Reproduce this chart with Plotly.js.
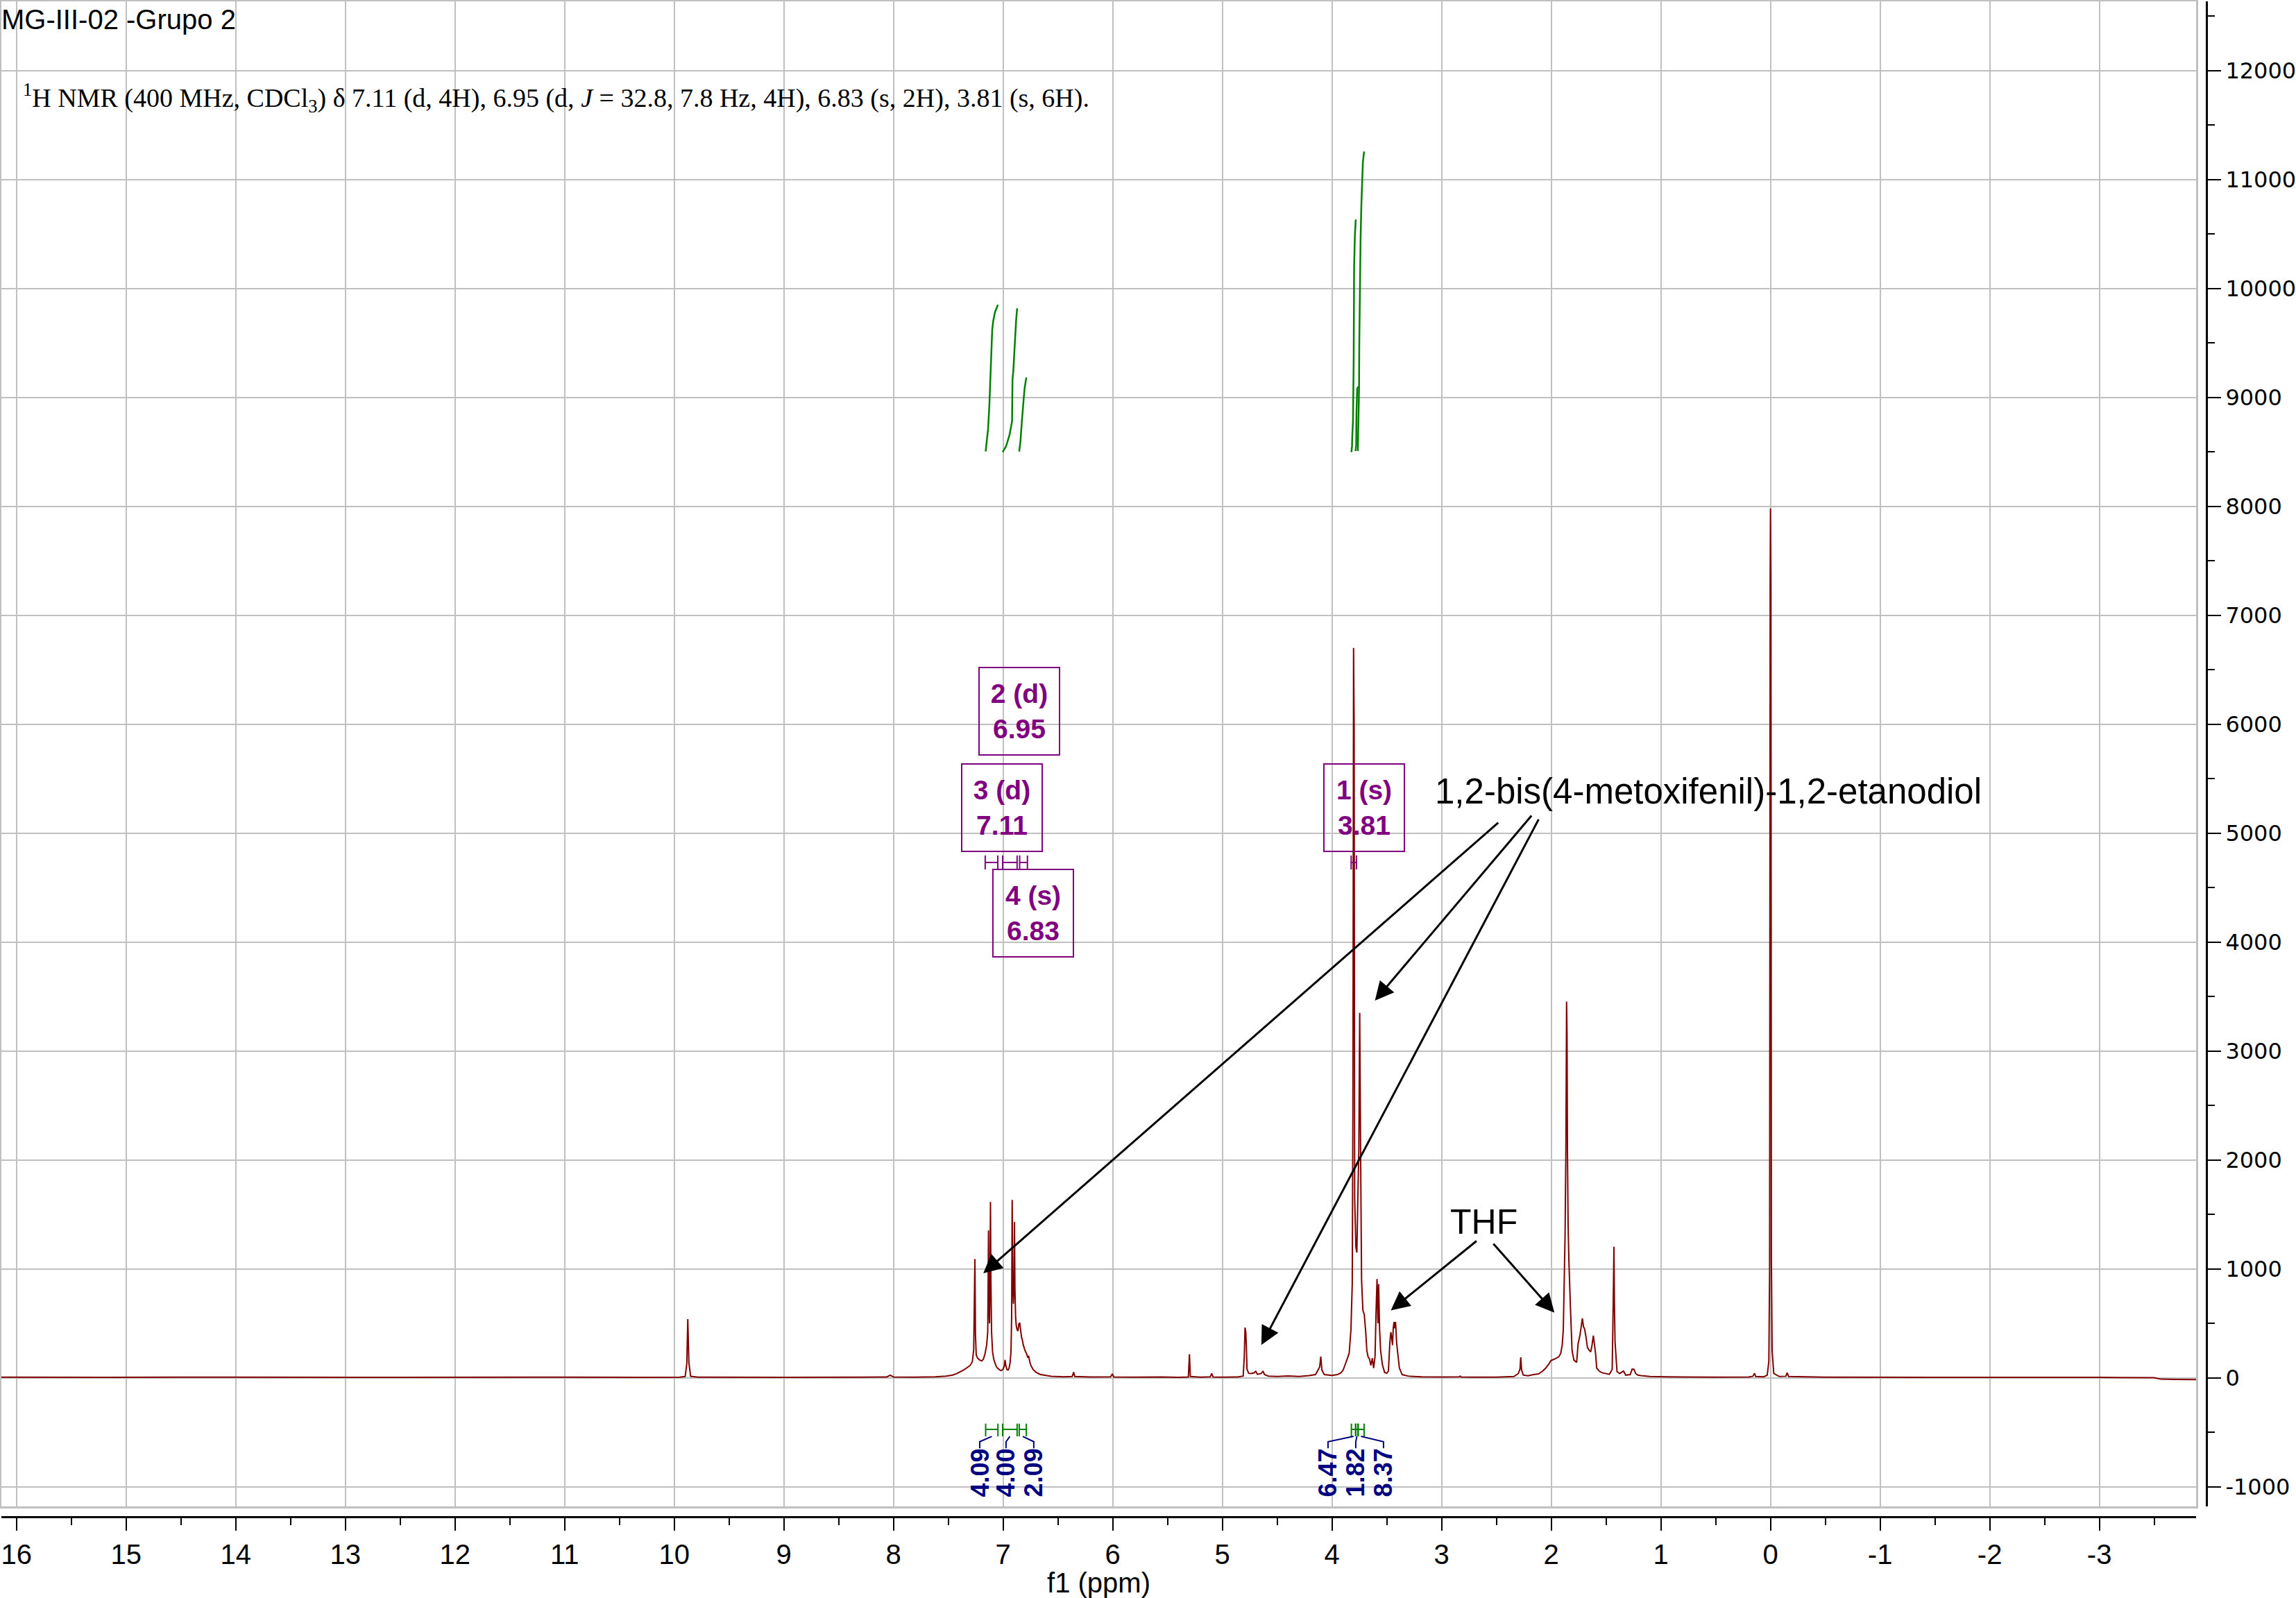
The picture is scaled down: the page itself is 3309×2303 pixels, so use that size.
<!DOCTYPE html>
<html><head><meta charset="utf-8">
<script src="https://cdn.plot.ly/plotly-3.0.1.min.js"></script>
<style>html,body{margin:0;padding:0;background:#fff;}#chart{width:3309px;height:2303px;}</style>
</head><body><div id="chart"></div>
<script>
// ---------------- DATA ----------------
const spectrumPpm = [16.137,15.2,14.0,12.5,11.0,10.3,9.95,9.90,9.885,9.876,9.866,9.85,9.78,9.0,8.3,8.06,8.03,8.00,7.80,7.62,7.52,7.46,7.42,7.39,7.36,7.33,7.30,7.28,7.268,7.262,7.257,7.252,7.245,7.232,7.215,7.195,7.18,7.165,7.150,7.140,7.136,7.133,7.129,7.124,7.119,7.115,7.111,7.105,7.096,7.085,7.076,7.062,7.050,7.030,7.018,7.000,6.988,6.982,6.976,6.966,6.955,6.945,6.936,6.928,6.922,6.917,6.912,6.906,6.900,6.896,6.892,6.886,6.880,6.872,6.864,6.856,6.848,6.840,6.832,6.824,6.815,6.806,6.795,6.786,6.776,6.766,6.755,6.744,6.725,6.700,6.663,6.600,6.560,6.45,6.37,6.356,6.346,6.20,6.02,6.003,5.99,5.80,5.55,5.40,5.31,5.300,5.292,5.20,5.11,5.097,5.085,5.00,4.86,4.81,4.800,4.793,4.786,4.781,4.775,4.76,4.74,4.71,4.695,4.68,4.645,4.630,4.615,4.58,4.50,4.40,4.30,4.21,4.15,4.128,4.112,4.102,4.092,4.07,4.00,3.95,3.92,3.90,3.876,3.855,3.843,3.827,3.815,3.809,3.803,3.798,3.793,3.782,3.773,3.765,3.755,3.747,3.739,3.730,3.718,3.705,3.692,3.682,3.670,3.658,3.645,3.632,3.620,3.607,3.598,3.589,3.581,3.574,3.566,3.556,3.540,3.520,3.500,3.485,3.473,3.463,3.456,3.448,3.441,3.434,3.427,3.420,3.410,3.400,3.385,3.360,3.30,3.18,3.00,2.84,2.83,2.82,2.70,2.50,2.34,2.30,2.285,2.278,2.270,2.255,2.213,2.160,2.116,2.080,2.051,2.020,2.003,1.975,1.954,1.930,1.913,1.900,1.890,1.874,1.866,1.860,1.856,1.852,1.846,1.839,1.825,1.810,1.793,1.768,1.755,1.740,1.728,1.716,1.706,1.696,1.683,1.670,1.658,1.640,1.628,1.616,1.605,1.596,1.585,1.560,1.535,1.470,1.444,1.432,1.428,1.424,1.418,1.400,1.375,1.341,1.320,1.280,1.262,1.245,1.230,1.210,1.180,1.100,0.937,0.80,0.50,0.20,0.160,0.146,0.135,0.06,0.03,0.015,0.008,0.003,0.000,-0.004,-0.008,-0.015,-0.030,-0.080,-0.140,-0.152,-0.165,-0.50,-1.50,-3.00,-3.50,-3.56,-3.70,-3.882];
const spectrumIntensity = [6,5,6,5,6,5,6,12,130,540,140,14,7,5,6,8,24,8,7,10,16,25,40,57,72,92,115,150,260,700,1090,400,210,180,165,155,170,220,300,420,900,1353,700,500,900,1614,900,420,240,170,142,105,89,72,66,80,110,165,120,78,72,90,140,240,560,1633,900,680,860,1432,820,560,480,440,430,495,505,440,376,345,300,270,240,222,190,196,140,110,75,52,32,20,14,10,12,52,12,8,9,36,8,6,8,5,8,217,12,6,9,40,8,7,8,16,190,461,420,290,80,42,40,46,60,32,40,62,30,16,12,18,12,20,30,70,100,195,72,30,22,30,45,68,132,190,227,440,863,2500,6700,5990,1650,1200,1150,1600,2100,3350,2100,900,620,580,420,250,190,174,115,180,90,200,600,907,500,860,450,248,120,50,42,62,312,420,376,300,455,514,455,514,320,227,90,30,15,10,8,9,16,8,6,7,12,40,80,189,70,26,19,30,36,60,89,130,159,170,180,195,227,300,440,1289,2138,3454,3150,2080,1400,1077,652,250,163,142,312,380,461,546,470,450,376,280,259,238,300,387,300,227,89,60,47,32,78,863,1204,700,333,57,40,62,25,30,80,78,40,25,20,12,10,8,6,8,15,42,12,10,25,150,1000,7300,7980,7340,1100,250,40,12,15,47,12,6,5,4,2,-12,-15,-16];

// integral curves (green), one array per integrated region
const integralCurvePpm = [
  [7.159,7.152,7.137,7.125,7.116,7.108,7.099,7.089,7.074,7.047],
  [7.004,6.973,6.941,6.927,6.918,6.914,6.906,6.897,6.889,6.881,6.872],
  [6.853,6.842,6.830,6.821,6.813,6.804,6.788],
  [3.823,3.817,3.815,3.808,3.802,3.798,3.791,3.783],
  [3.785,3.779,3.777,3.770,3.760],
  [3.764,3.760,3.753,3.751,3.745,3.739,3.732,3.724,3.718,3.707]
];
const integralCurveValue = [
  [8503,8571,8709,8932,9166,9389,9622,9707,9782,9850],
  [8497,8550,8656,8720,8783,9166,9251,9420,9611,9707,9818],
  [8503,8592,8762,8911,8975,9081,9183],
  [8497,8553,8636,8792,9353,10200,10486,10633],
  [8508,8564,8843,9078,9100],
  [8508,8687,9089,9480,10027,10463,10765,11028,11160,11257]
];
const integralFrom   = [7.159, 7.004, 6.853, 3.823, 3.785, 3.764];
const integralTo     = [7.047, 6.872, 6.788, 3.783, 3.760, 3.707];
const integralValues = ['4.09','4.00','2.09','6.47','1.82','8.37'];

const multipletNames  = ['1 (s)','2 (d)','3 (d)','4 (s)'];
const multipletShifts = ['3.81','6.95','7.11','6.83'];
const multipletFrom   = [3.825, 7.004, 7.163, 6.849];
const multipletTo     = [3.777, 6.872, 7.048, 6.778];

// axis tick labels
const xTickVals = [16,15,14,13,12,11,10,9,8,7,6,5,4,3,2,1,0,-1,-2,-3];
const xTickText = ['16','15','14','13','12','11','10','9','8','7','6','5','4','3','2','1','0','-1','-2','-3'];
const yTickVals = [-1000,0,1000,2000,3000,4000,5000,6000,7000,8000,9000,10000,11000,12000];
const yTickText = ['-1000','0','1000','2000','3000','4000','5000','6000','7000','8000','9000','10000','11000','12000'];

const titleText = 'MG-III-02 -Grupo 2';
const nmrText = '<sup>1</sup>H NMR (400 MHz, CDCl<sub>3</sub>) δ 7.11 (d, 4H), 6.95 (d, <i>J</i> = 32.8, 7.8 Hz, 4H), 6.83 (s, 2H), 3.81 (s, 6H).';
const compoundText = '1,2-bis(4-metoxifenil)-1,2-etanodiol';
const solventText = 'THF';
const xTitle = 'f1 (ppm)';

// ---------------- POSITIONS / STYLES ----------------
const X_RANGE = [16.137, -3.882];
const Y_RANGE = [-1180, 12635];
const RED = '#800000', GREEN = '#008000', NAVY = '#000080', PURPLE = '#800080', GRID = '#c0c0c0';
const integralLabelPpm = [7.213, 6.973, 6.720, 4.036, 3.783, 3.530];
const multipletBoxPos = [[3.707, 5231], [6.851, 6117], [7.008, 5231], [6.726, 4266]];
const BR = {mid: -473, top: -420, bot: -537, elbow: -586, end: -647, label: -871};
const MB = {mid: 4731, top: 4795, bot: 4667};

const traces = [];
traces.push({type:'scatter', mode:'lines', x:spectrumPpm, y:spectrumIntensity,
  line:{color:RED, width:2, simplify:false}, hoverinfo:'skip', showlegend:false});
integralCurvePpm.forEach((xs,i)=>traces.push({type:'scatter', mode:'lines', x:xs, y:integralCurveValue[i],
  line:{color:GREEN, width:2.5}, hoverinfo:'skip', showlegend:false}));

// green integration brackets
const gx=[], gy=[];
integralFrom.forEach((a,i)=>{const b=integralTo[i];
  gx.push(a,a,null,a,b,null,b,b,null); gy.push(BR.top,BR.bot,null,BR.mid,BR.mid,null,BR.top,BR.bot,null);});
traces.push({type:'scatter', mode:'lines', x:gx, y:gy, line:{color:GREEN, width:2}, hoverinfo:'skip', showlegend:false});
// navy connectors
const nx=[], ny=[];
integralFrom.forEach((a,i)=>{const c=(a+integralTo[i])/2, lp=integralLabelPpm[i];
  nx.push(c,lp,lp,null); ny.push(BR.bot,BR.elbow,BR.end,null);});
traces.push({type:'scatter', mode:'lines', x:nx, y:ny, line:{color:NAVY, width:2}, hoverinfo:'skip', showlegend:false});
// purple multiplet range markers
const px=[], py=[];
multipletFrom.forEach((a,i)=>{const b=multipletTo[i];
  px.push(a,a,null,a,b,null,b,b,null); py.push(MB.top,MB.bot,null,MB.mid,MB.mid,null,MB.top,MB.bot,null);});
traces.push({type:'scatter', mode:'lines', x:px, y:py, line:{color:PURPLE, width:2}, hoverinfo:'skip', showlegend:false});
// carrier trace for the outer (black) axes
traces.push({type:'scatter', mode:'lines', x:[null], y:[null], xaxis:'x2', yaxis:'y2', hoverinfo:'skip', showlegend:false});

const annotations = [];
// paper coords: plot area spans pixel x 2..3180, y 2..2186
const pxX = p => (p-2)/3178, pxY = p => (2186-p)/2184;
annotations.push({xref:'paper', yref:'paper', x:pxX(0), y:pxY(28), xanchor:'left', yanchor:'middle', showarrow:false,
  text:titleText, font:{family:'Liberation Sans', size:40, color:'#000'}});
annotations.push({xref:'paper', yref:'paper', x:pxX(31), y:pxY(141), xanchor:'left', yanchor:'middle', showarrow:false,
  text:nmrText, font:{family:'Liberation Serif', size:38, color:'#000'}});
multipletNames.forEach((n,i)=>annotations.push({xref:'x', yref:'y', x:multipletBoxPos[i][0], y:multipletBoxPos[i][1],
  xanchor:'center', yanchor:'middle', showarrow:false, text:'<b>'+n+'<br>'+multipletShifts[i]+'</b>', align:'center',
  width:112, height:122, borderpad:1, borderwidth:2, bordercolor:PURPLE,
  font:{family:'Liberation Sans', size:39, color:PURPLE}}));
integralValues.forEach((v,i)=>annotations.push({xref:'x', yref:'y', x:integralLabelPpm[i], y:BR.label,
  xanchor:'center', yanchor:'middle', showarrow:false, textangle:-90, text:'<b>'+v+'</b>',
  font:{family:'Liberation Sans Narrow, Arial Narrow, Liberation Sans', size:36, color:NAVY}}));
annotations.push({xref:'x', yref:'y', x:3.074, y:5383, xanchor:'left', yanchor:'middle', showarrow:false,
  text:compoundText, font:{family:'Liberation Sans', size:51, color:'#000'}});
annotations.push({xref:'x', yref:'y', x:2.615, y:1432, xanchor:'center', yanchor:'middle', showarrow:false,
  text:solventText, font:{family:'Liberation Sans', size:50, color:'#000'}});
const arrows = [
  [7.180, 960, 2.474, 5105],
  [3.608, 3463, 2.172, 5170],
  [4.644, 302, 2.110, 5136],
  [3.463, 620, 2.672, 1264],
  [1.971, 599, 2.536, 1240]
];
arrows.forEach(a=>annotations.push({xref:'x', yref:'y', axref:'x', ayref:'y', x:a[0], y:a[1], ax:a[2], ay:a[3],
  text:'', showarrow:true, arrowhead:2, arrowsize:1.8, arrowwidth:3, arrowcolor:'#000', standoff:0, startstandoff:0}));

const tickFont = {family:'Liberation Sans', size:40, color:'#000'};
const layout = {
  width:3309, height:2303,
  margin:{l:2, r:129, t:2, b:117, pad:0},
  paper_bgcolor:'#fff', plot_bgcolor:'#fff', showlegend:false, hovermode:false,
  xaxis:{domain:[0, 3163/3178], range:X_RANGE, autorange:false, anchor:'y', dtick:1, tick0:0,
    showgrid:true, gridcolor:GRID, gridwidth:2, zeroline:false, showticklabels:false, ticks:'',
    showline:true, linecolor:GRID, linewidth:3, mirror:true},
  yaxis:{domain:[15/2184, 1], range:Y_RANGE, autorange:false, anchor:'x', dtick:1000, tick0:0,
    showgrid:true, gridcolor:GRID, gridwidth:2, zeroline:false, showticklabels:false, ticks:'',
    showline:true, linecolor:GRID, linewidth:3, mirror:true},
  xaxis2:{overlaying:'x', anchor:'free', position:0, side:'bottom', range:X_RANGE, autorange:false,
    tickmode:'array', tickvals:xTickVals, ticktext:xTickText,
    showgrid:false, zeroline:false, showline:true, linecolor:'#000', linewidth:3,
    ticks:'outside', ticklen:18, tickwidth:2, tickcolor:'#000', tickfont:tickFont,
    minor:{dtick:0.5, tick0:0, ticks:'outside', ticklen:10, tickwidth:2, tickcolor:'#000', showgrid:false},
    title:{text:xTitle, font:tickFont, standoff:4}},
  yaxis2:{overlaying:'y', anchor:'free', position:1, side:'right', range:Y_RANGE, autorange:false,
    tickmode:'array', tickvals:yTickVals, ticktext:yTickText,
    showgrid:false, zeroline:false, showline:true, linecolor:'#000', linewidth:3,
    ticks:'outside', ticklen:19, tickwidth:2, tickcolor:'#000',
    tickfont:{family:'DejaVu Sans', size:32, color:'#000'},
    minor:{dtick:500, tick0:0, ticks:'outside', ticklen:10, tickwidth:2, tickcolor:'#000', showgrid:false}},
  annotations:annotations
};
Plotly.newPlot('chart', traces, layout, {staticPlot:true, displayModeBar:false});
</script></body></html>
